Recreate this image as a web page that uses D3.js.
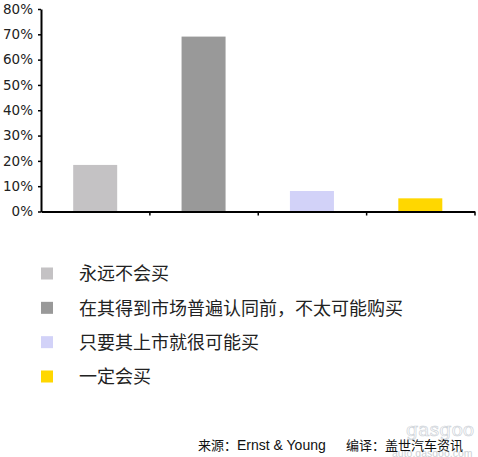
<!DOCTYPE html>
<html>
<head>
<meta charset="utf-8">
<script src="https://cdn.jsdelivr.net/npm/d3@7"></script>
<style>
  html, body { margin: 0; padding: 0; background: #fff; }
  svg { display: block; }
</style>
</head>
<body>
<div id="chart"></div>
<script>
// categories / values
var categories = ["永远不会买", "在其得到市场普遍认同前，不太可能购买", "只要其上市就很可能买", "一定会买"];
var values = [18.4, 69.1, 8.1, 5.2];
var colors = ["#c4c2c4", "#999999", "#d2d2f8", "#ffd700"];
var yTicks = [0, 10, 20, 30, 40, 50, 60, 70, 80];

var width = 478, height = 457;

var svg = d3.select("#chart").append("svg")
  .attr("width", width)
  .attr("height", height);

var x = d3.scaleBand()
  .domain(categories)
  .range([41, 474.5])
  .paddingInner(0.594)
  .paddingOuter(0.297);

// boundaries between categories, for the tick marks under the axis
var xEdge = d3.scaleLinear().domain([0, categories.length]).range(x.range());

var y = d3.scaleLinear().domain([0, 80]).range([211.5, 9]);

// bars
svg.append("g").selectAll("rect")
  .data(values)
  .enter().append("rect")
  .attr("x", function(d, i) { return x(categories[i]); })
  .attr("y", function(d) { return y(d); })
  .attr("width", x.bandwidth())
  .attr("height", function(d) { return y(0) - y(d); })
  .attr("fill", function(d, i) { return colors[i]; });

// y axis
var yAxis = svg.append("g")
  .attr("transform", "translate(41,0)")
  .call(d3.axisLeft(y)
    .tickValues(yTicks)
    .tickFormat(function(d) { return d + "%"; })
    .tickSize(3)
    .tickSizeOuter(0)
    .tickPadding(5));
yAxis.select(".domain").attr("stroke", "#000").attr("stroke-width", 2);
yAxis.selectAll(".tick line").attr("stroke", "#000").attr("stroke-width", 1.5);
yAxis.selectAll("text")
  .attr("fill", "#222")
  .style("font-family", "'DejaVu Sans', Verdana, sans-serif")
  .style("font-size", "13.5px");

// x axis (no labels, ticks at category edges)
var xAxis = svg.append("g")
  .attr("transform", "translate(0," + y(0) + ")")
  .call(d3.axisBottom(xEdge)
    .tickValues(d3.range(1, categories.length + 1))
    .tickFormat("")
    .tickSize(4)
    .tickSizeOuter(0));
xAxis.select(".domain").attr("stroke", "#000").attr("stroke-width", 2);
xAxis.selectAll(".tick line").attr("stroke", "#000").attr("stroke-width", 1.5);

// legend
var legendRows = d3.scaleLinear().domain([0, 3]).range([274, 377]);
var legend = svg.append("g").selectAll("g")
  .data(categories)
  .enter().append("g")
  .attr("transform", function(d, i) { return "translate(0," + legendRows(i) + ")"; });

legend.append("rect")
  .attr("x", 41)
  .attr("y", -6.5)
  .attr("width", 12)
  .attr("height", 12)
  .attr("fill", function(d, i) { return colors[i]; });

legend.append("text")
  .attr("x", 79)
  .attr("y", 0)
  .attr("dy", "0.36em")
  .attr("fill", "#222")
  .style("font-family", "'Noto Sans CJK SC', sans-serif")
  .style("font-size", "18px")
  .text(function(d) { return d; });

// faint watermark
var wm = svg.append("g").attr("fill", "none");
wm.append("text")
  .attr("x", 406).attr("y", 436)
  .attr("stroke", "#cdd2d8").attr("stroke-width", 0.7)
  .style("font-family", "'DejaVu Serif', serif")
  .style("font-size", "19px")
  .text("gasgoo");
wm.append("text")
  .attr("x", 392).attr("y", 456.5)
  .attr("fill", "#cdd1d6")
  .style("font-family", "'Liberation Sans', Arial, sans-serif")
  .style("font-size", "10.5px")
  .text("auto.gasgoo.com");

// source line
var src = svg.append("text")
  .attr("y", 450)
  .attr("fill", "#111")
  .style("font-family", "'Liberation Sans', Arial, sans-serif");
src.append("tspan").attr("x", 198)
  .style("font-family", "'Noto Sans CJK SC', sans-serif").style("font-size", "13px")
  .text("来源：");
src.append("tspan")
  .style("font-size", "14px")
  .text("Ernst & Young");
src.append("tspan").attr("x", 346)
  .style("font-family", "'Noto Sans CJK SC', sans-serif").style("font-size", "13px")
  .text("编译：盖世汽车资讯");
</script>
</body>
</html>
